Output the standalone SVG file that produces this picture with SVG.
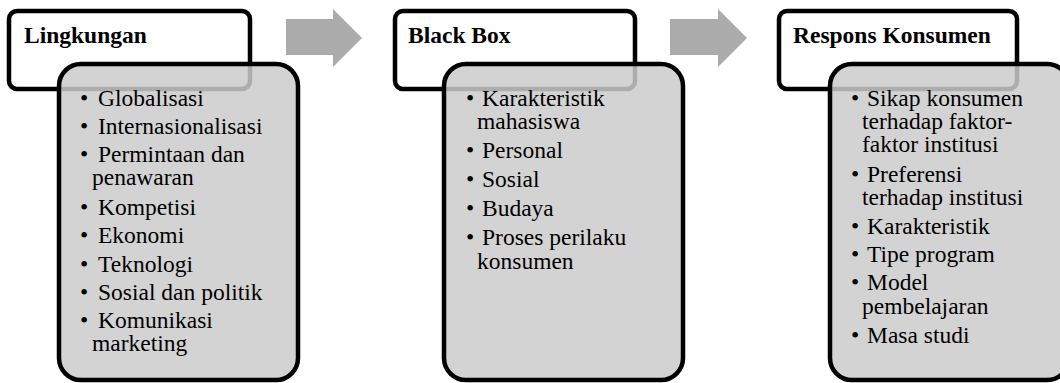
<svg xmlns="http://www.w3.org/2000/svg" width="1060" height="383" viewBox="0 0 1060 383">
<style>
.hdr{fill:#ffffff;stroke:#000000;stroke-width:4.5}
.box{fill:#cbcbcb;fill-opacity:0.85;stroke:#000000;stroke-width:4.5}
.t{font-family:'Times New Roman','Liberation Serif','DejaVu Serif',serif;font-size:23.5px;fill:#000000}
.b{font-weight:bold}
.arr{fill:#ababab}
</style>
<rect width="1060" height="383" fill="#ffffff"/>
<g id="connectors">
<polygon class="arr" points="286,19 333,19 333,9 362,38 333,67 333,55 286,55"/>
<polygon class="arr" points="670,19 718,19 718,9 747,38 718,67 718,55 670,55"/>
</g>
<g id="node-lingkungan">
<rect class="hdr" x="9" y="11" width="241" height="78" rx="8"/>
<text class="t b" x="24" y="43">Lingkungan</text>
<rect class="box" x="59" y="64" width="239" height="316" rx="22"/>
<g class="t">
<text x="80" y="106">•</text><text x="98" y="106">Globalisasi</text>
<text x="80" y="134">•</text><text x="98" y="134">Internasionalisasi</text>
<text x="80" y="162">•</text><text x="98" y="162">Permintaan dan</text>
<text x="92" y="185">penawaran</text>
<text x="80" y="214.5">•</text><text x="98" y="214.5">Kompetisi</text>
<text x="80" y="243">•</text><text x="98" y="243">Ekonomi</text>
<text x="80" y="271.5">•</text><text x="98" y="271.5">Teknologi</text>
<text x="80" y="300">•</text><text x="98" y="300">Sosial dan politik</text>
<text x="80" y="328">•</text><text x="98" y="328">Komunikasi</text>
<text x="92" y="351">marketing</text>
</g>
</g>
<g id="node-blackbox">
<rect class="hdr" x="395" y="11" width="240" height="78" rx="8"/>
<text class="t b" x="408" y="43">Black Box</text>
<rect class="box" x="444" y="64" width="239" height="316" rx="22"/>
<g class="t">
<text x="466" y="105.5">•</text><text x="482" y="105.5">Karakteristik</text>
<text x="477" y="129">mahasiswa</text>
<text x="466" y="158">•</text><text x="482" y="158">Personal</text>
<text x="466" y="187">•</text><text x="482" y="187">Sosial</text>
<text x="466" y="215.5">•</text><text x="482" y="215.5">Budaya</text>
<text x="466" y="244.5">•</text><text x="482" y="244.5">Proses perilaku</text>
<text x="477" y="269">konsumen</text>
</g>
</g>
<g id="node-respons">
<rect class="hdr" x="779" y="11" width="238" height="78" rx="8"/>
<text class="t b" x="793" y="43">Respons Konsumen</text>
<rect class="box" x="830" y="64" width="239" height="316" rx="22"/>
<g class="t">
<text x="851" y="106">•</text><text x="867" y="106">Sikap konsumen</text>
<text x="862" y="129">terhadap faktor-</text>
<text x="862" y="152">faktor institusi</text>
<text x="851" y="181.5">•</text><text x="867" y="181.5">Preferensi</text>
<text x="862" y="204.5">terhadap institusi</text>
<text x="851" y="234">•</text><text x="867" y="234">Karakteristik</text>
<text x="851" y="262">•</text><text x="867" y="262">Tipe program</text>
<text x="851" y="290">•</text><text x="867" y="290">Model</text>
<text x="862" y="313.5">pembelajaran</text>
<text x="851" y="343">•</text><text x="867" y="343">Masa studi</text>
</g>
</g>
</svg>
